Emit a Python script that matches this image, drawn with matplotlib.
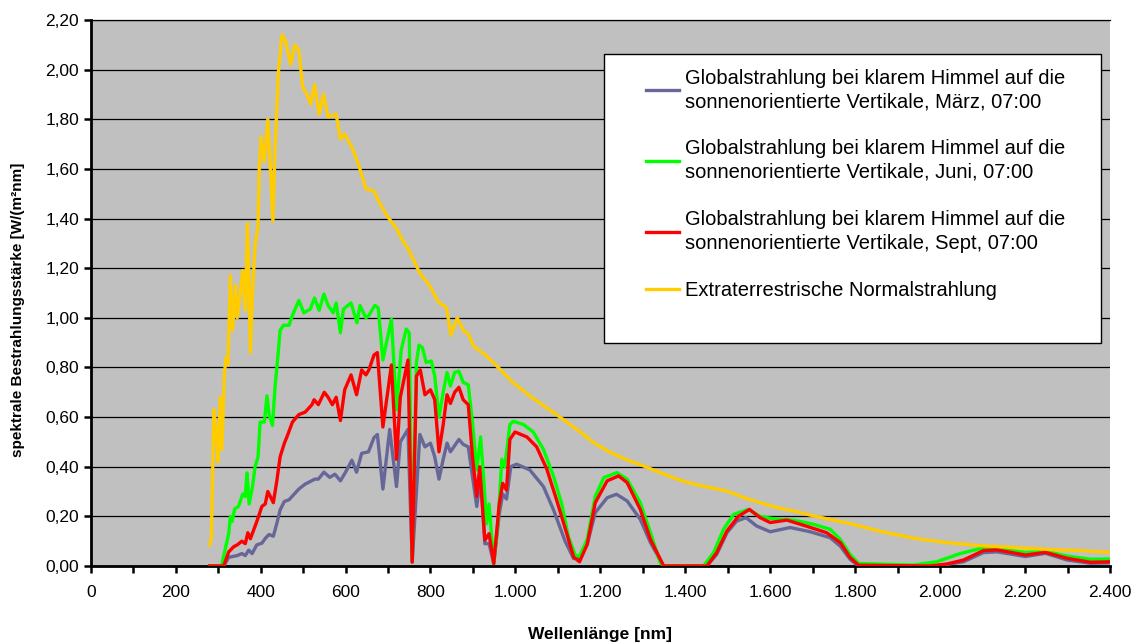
# -*- coding: utf-8 -*-

import numpy as np
import matplotlib as mpl
mpl.use('Agg')
import matplotlib.pyplot as plt
from matplotlib.ticker import MultipleLocator, FuncFormatter
from matplotlib.patches import Rectangle

plt.rcParams['font.family'] = ['Liberation Sans', 'DejaVu Sans']

# (Wellenlänge nm, W/(m²nm))
maerz = [(280, 0), (313, 0), (325, 0.035), (345, 0.042), (356, 0.05), (364, 0.042), (372, 0.064),
         (380, 0.05), (391, 0.085), (403, 0.092), (412, 0.113), (420, 0.127), (430, 0.12), (438, 0.17),
         (446, 0.226), (456, 0.26), (467, 0.267), (490, 0.31), (505, 0.33), (528, 0.35), (536, 0.35),
         (549, 0.378), (563, 0.357), (575, 0.37), (588, 0.343), (600, 0.378), (615, 0.426), (626, 0.378),
         (638, 0.454), (654, 0.46), (667, 0.517), (675, 0.53), (688, 0.31), (704, 0.55), (720, 0.32),
         (729, 0.50), (747, 0.55), (757, 0.016), (775, 0.53), (787, 0.48), (800, 0.495), (810, 0.44),
         (820, 0.35), (830, 0.43), (839, 0.495), (847, 0.46), (867, 0.51), (877, 0.49), (889, 0.48),
         (899, 0.36), (909, 0.24), (918, 0.36), (928, 0.09), (938, 0.09), (949, 0.01), (962, 0.21),
         (970, 0.29), (979, 0.27), (989, 0.40), (1003, 0.41), (1034, 0.387), (1066, 0.32), (1090, 0.225),
         (1117, 0.10), (1137, 0.03), (1151, 0.034), (1169, 0.087), (1188, 0.215), (1216, 0.275),
         (1238, 0.289), (1263, 0.262), (1294, 0.188), (1318, 0.094), (1349, 0), (1451, 0), (1474, 0.047),
         (1498, 0.134), (1521, 0.181), (1543, 0.195), (1568, 0.161), (1600, 0.138), (1647, 0.155),
         (1694, 0.138), (1741, 0.114), (1765, 0.08), (1788, 0.027), (1808, 0), (1992, 0), (2055, 0.017),
         (2102, 0.054), (2134, 0.057), (2201, 0.038), (2248, 0.051), (2299, 0.024), (2354, 0.011),
         (2400, 0.013)]

juni = [(280, 0), (308, 0), (319, 0.085), (325, 0.13), (329, 0.20), (333, 0.18), (339, 0.23), (348, 0.24),
        (358, 0.29), (364, 0.28), (368, 0.375), (373, 0.25), (381, 0.32), (387, 0.40), (394, 0.44),
        (399, 0.58), (409, 0.58), (415, 0.686), (420, 0.61), (428, 0.566), (434, 0.72), (441, 0.85),
        (446, 0.95), (454, 0.97), (467, 0.97), (475, 1.01), (490, 1.07), (502, 1.02), (517, 1.035),
        (527, 1.08), (538, 1.03), (549, 1.096), (559, 1.05), (571, 1.02), (578, 1.06), (588, 0.94),
        (595, 1.035), (613, 1.06), (627, 0.98), (634, 1.05), (648, 1.0), (655, 1.01), (669, 1.05),
        (677, 1.04), (688, 0.83), (708, 0.995), (720, 0.63), (731, 0.87), (743, 0.955), (750, 0.94),
        (757, 0.02), (767, 0.82), (773, 0.89), (781, 0.88), (790, 0.82), (802, 0.826), (810, 0.765),
        (820, 0.60), (830, 0.70), (839, 0.78), (847, 0.725), (857, 0.78), (867, 0.785), (877, 0.74),
        (889, 0.73), (899, 0.576), (909, 0.387), (918, 0.52), (926, 0.333), (932, 0.17), (938, 0.25),
        (949, 0.01), (960, 0.20), (968, 0.43), (975, 0.40), (987, 0.57), (995, 0.583), (1019, 0.57),
        (1042, 0.54), (1066, 0.47), (1090, 0.36), (1109, 0.25), (1125, 0.117), (1141, 0.043),
        (1151, 0.04), (1169, 0.107), (1188, 0.28), (1208, 0.356), (1239, 0.376), (1263, 0.35),
        (1294, 0.255), (1318, 0.134), (1341, 0.013), (1349, 0), (1443, 0), (1467, 0.054), (1490, 0.148),
        (1514, 0.208), (1549, 0.228), (1576, 0.20), (1608, 0.19), (1655, 0.185), (1702, 0.168),
        (1741, 0.148), (1765, 0.107), (1788, 0.047), (1808, 0.01), (1937, 0.004), (1992, 0.017),
        (2047, 0.05), (2094, 0.07), (2134, 0.069), (2201, 0.054), (2248, 0.059), (2299, 0.04),
        (2354, 0.027), (2400, 0.028)]

sept = [(280, 0), (313, 0), (325, 0.057), (337, 0.078), (345, 0.085), (356, 0.10), (364, 0.09),
        (370, 0.134), (376, 0.11), (387, 0.16), (395, 0.198), (403, 0.24), (411, 0.25), (417, 0.30),
        (423, 0.28), (430, 0.255), (438, 0.34), (446, 0.44), (456, 0.495), (462, 0.52), (475, 0.58),
        (490, 0.61), (505, 0.62), (521, 0.65), (526, 0.67), (536, 0.65), (550, 0.70), (559, 0.68),
        (569, 0.65), (578, 0.68), (588, 0.586), (598, 0.71), (613, 0.77), (626, 0.69), (638, 0.79),
        (648, 0.77), (655, 0.79), (667, 0.85), (675, 0.86), (688, 0.56), (708, 0.81), (720, 0.43),
        (729, 0.68), (747, 0.83), (757, 0.016), (767, 0.765), (776, 0.79), (787, 0.69), (800, 0.71),
        (810, 0.67), (820, 0.46), (830, 0.57), (839, 0.69), (847, 0.655), (857, 0.70), (867, 0.72),
        (877, 0.67), (889, 0.65), (899, 0.44), (909, 0.28), (916, 0.40), (928, 0.104), (938, 0.13),
        (949, 0.01), (962, 0.25), (970, 0.333), (979, 0.306), (987, 0.51), (999, 0.54), (1027, 0.52),
        (1050, 0.48), (1074, 0.39), (1097, 0.266), (1121, 0.13), (1137, 0.036), (1151, 0.017),
        (1169, 0.087), (1188, 0.255), (1216, 0.343), (1243, 0.363), (1263, 0.336), (1294, 0.228),
        (1318, 0.107), (1349, 0), (1451, 0), (1474, 0.054), (1498, 0.141), (1525, 0.20), (1551, 0.228),
        (1576, 0.195), (1600, 0.175), (1639, 0.185), (1686, 0.16), (1733, 0.134), (1765, 0.094),
        (1788, 0.034), (1808, 0.003), (1976, 0), (2016, 0.008), (2055, 0.024), (2102, 0.062),
        (2134, 0.065), (2201, 0.044), (2248, 0.055), (2299, 0.031), (2354, 0.015), (2400, 0.017)]

extra = [(280, 0.085), (284, 0.11), (290, 0.63), (295, 0.55), (300, 0.42), (305, 0.68), (309, 0.47),
         (315, 0.78), (319, 0.84), (323, 0.81), (329, 1.17), (334, 0.95), (341, 1.13), (345, 1.00),
         (352, 1.10), (358, 1.19), (364, 1.03), (369, 1.38), (372, 1.19), (376, 0.86), (381, 1.10),
         (387, 1.29), (394, 1.37), (397, 1.61), (401, 1.73), (409, 1.63), (417, 1.80), (422, 1.64),
         (429, 1.39), (434, 1.68), (442, 1.99), (450, 2.14), (458, 2.12), (471, 2.02), (480, 2.10),
         (490, 2.08), (499, 1.93), (509, 1.90), (518, 1.86), (527, 1.94), (538, 1.82), (548, 1.90),
         (559, 1.81), (578, 1.82), (588, 1.72), (598, 1.74), (617, 1.68), (632, 1.61), (648, 1.52),
         (667, 1.51), (678, 1.47), (698, 1.41), (720, 1.36), (735, 1.31), (747, 1.28), (775, 1.18),
         (798, 1.13), (818, 1.065), (838, 1.04), (848, 0.93), (863, 1.0), (877, 0.95), (889, 0.935),
         (901, 0.887), (932, 0.846), (956, 0.806), (995, 0.738), (1035, 0.684), (1074, 0.637),
         (1113, 0.59), (1153, 0.54), (1184, 0.497), (1224, 0.457), (1263, 0.427), (1302, 0.403),
         (1341, 0.376), (1380, 0.35), (1420, 0.33), (1459, 0.316), (1498, 0.302), (1537, 0.276),
         (1576, 0.255), (1616, 0.235), (1655, 0.222), (1694, 0.205), (1740, 0.188), (1790, 0.17),
         (1858, 0.14), (1937, 0.112), (2016, 0.094), (2094, 0.082), (2173, 0.075), (2252, 0.067),
         (2331, 0.062), (2400, 0.055)]

labels = ['Globalstrahlung bei klarem Himmel auf die\nsonnenorientierte Vertikale, März, 07:00',
          'Globalstrahlung bei klarem Himmel auf die\nsonnenorientierte Vertikale, Juni, 07:00',
          'Globalstrahlung bei klarem Himmel auf die\nsonnenorientierte Vertikale, Sept, 07:00',
          'Extraterrestrische Normalstrahlung']
colors = ['#666699', '#00FF00', '#FF0000', '#FFCC00']

fig = plt.figure(figsize=(11.38, 6.42), dpi=100)
ax = fig.add_axes([0.0797, 0.1184, 0.8957, 0.8504])
ax.set_facecolor('#C0C0C0')

for data, lab, col in zip([maerz, juni, sept, extra], labels, colors):
    x, y = zip(*data)
    ax.plot(x, y, color=col, lw=2.4, label=lab, solid_joinstyle='round', zorder=3)

ax.set_xlim(0, 2400)
ax.set_ylim(0, 2.2)
ax.xaxis.set_major_locator(MultipleLocator(200))
ax.xaxis.set_minor_locator(MultipleLocator(100))
ax.yaxis.set_major_locator(MultipleLocator(0.2))
ax.xaxis.set_major_formatter(FuncFormatter(lambda v, p: f'{int(round(v)):,}'.replace(',', '.')))
ax.yaxis.set_major_formatter(FuncFormatter(lambda v, p: f'{v:.2f}'.replace('.', ',')))
ax.tick_params(axis='both', which='both', direction='out', width=1.8, length=5, labelsize=12.5, colors='black')
ax.tick_params(axis='x', pad=9)
ax.grid(axis='y', color='black', lw=0.9, zorder=1)
ax.set_axisbelow(True)

ax.spines['right'].set_visible(False)
ax.spines['top'].set_linewidth(0.9)
ax.spines['left'].set_linewidth(2)
ax.spines['bottom'].set_linewidth(2)

ax.set_xlabel('Wellenlänge [nm]', fontsize=12.5, fontweight='bold', labelpad=19)
ax.set_ylabel('spektrale Bestrahlungsstärke [W/(m²nm]', fontsize=11, fontweight='bold', labelpad=9)
ax.yaxis.set_label_coords(-0.064, 0.47)

# legend box
ax.add_patch(Rectangle((0.5036, 0.408), 0.4876, 0.530, transform=ax.transAxes,
                       facecolor='white', edgecolor='black', lw=1, zorder=4))
leg = ax.legend(loc='upper left', bbox_to_anchor=(0.5448, 0.911), frameon=False, fontsize=14.5,
                handlelength=1.65, handletextpad=0.27, labelspacing=1.4, borderpad=0, borderaxespad=0)
for t in leg.get_texts():
    t.set_linespacing(1.3)
leg.set_zorder(5)

plt.savefig('out.png', dpi=100)
